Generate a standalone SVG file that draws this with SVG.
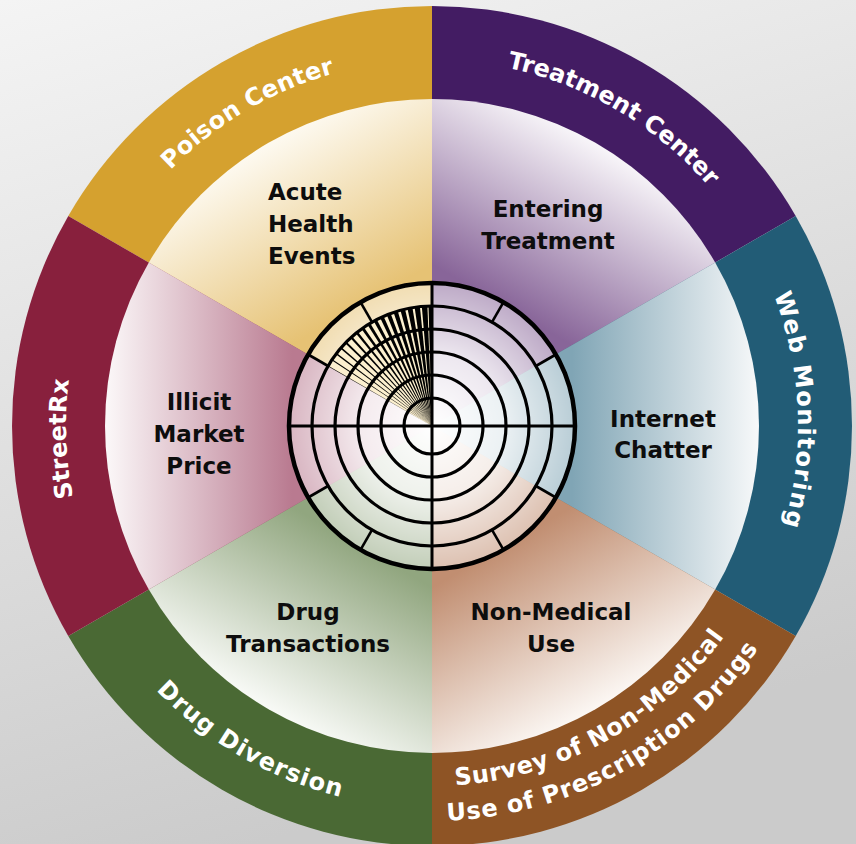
<svg xmlns="http://www.w3.org/2000/svg" xmlns:xlink="http://www.w3.org/1999/xlink" width="856" height="844" viewBox="0 0 856 844">
<style>
.ring{font-family:"DejaVu Sans","Liberation Sans",sans-serif;font-weight:bold;font-size:24px;fill:#ffffff;}
.lbl{font-family:"DejaVu Sans","Liberation Sans",sans-serif;font-weight:bold;font-size:23px;fill:#0d0d0d;}
.c{text-anchor:middle;}
.rk{fill:none;stroke:#000;}
</style>
<defs>
<linearGradient id="bg" x1="0" y1="0" x2="0.3" y2="1">
<stop offset="0" stop-color="#f4f4f4"/><stop offset="1" stop-color="#cbcbcb"/>
</linearGradient>
<linearGradient id="gY" gradientUnits="userSpaceOnUse" x1="362" y1="304.8" x2="269.5" y2="144.5"><stop offset="0" stop-color="#e6c274"/><stop offset="1" stop-color="#fdf9ef"/></linearGradient>
<linearGradient id="gP" gradientUnits="userSpaceOnUse" x1="502" y1="304.8" x2="594.5" y2="144.5"><stop offset="0" stop-color="#886599"/><stop offset="1" stop-color="#f7f4f8"/></linearGradient>
<linearGradient id="gT" gradientUnits="userSpaceOnUse" x1="572" y1="426" x2="757" y2="426"><stop offset="0" stop-color="#80a5b5"/><stop offset="1" stop-color="#f6f8f9"/></linearGradient>
<linearGradient id="gB" gradientUnits="userSpaceOnUse" x1="502" y1="547.2" x2="594.5" y2="707.5"><stop offset="0" stop-color="#c18e71"/><stop offset="1" stop-color="#fbf6f2"/></linearGradient>
<linearGradient id="gG" gradientUnits="userSpaceOnUse" x1="362" y1="547.2" x2="269.5" y2="707.5"><stop offset="0" stop-color="#91a67f"/><stop offset="1" stop-color="#f7f9f5"/></linearGradient>
<linearGradient id="gM" gradientUnits="userSpaceOnUse" x1="292" y1="426" x2="107" y2="426"><stop offset="0" stop-color="#b97a90"/><stop offset="1" stop-color="#fbf7f8"/></linearGradient>
<radialGradient id="glow" gradientUnits="userSpaceOnUse" cx="432" cy="426" r="143">
<stop offset="0" stop-color="#fff" stop-opacity="1"/><stop offset="0.5" stop-color="#fff" stop-opacity="0.85"/><stop offset="1" stop-color="#fff" stop-opacity="0.45"/>
</radialGradient>
<path id="top366" d="M -316.97,-183 A 366 366 0 0 1 316.97,-183"/>
<path id="bot382" d="M -330.82,191 A 382 382 0 0 0 330.82,191"/>
<path id="bot360" d="M -311.77,180 A 360 360 0 0 0 311.77,180"/>
<path id="bot395" d="M -342.08,197.5 A 395 395 0 0 0 342.08,197.5"/>
</defs>

<rect x="0" y="0" width="856" height="844" fill="url(#bg)"/>

<g id="ring-poison-center">
<path d="M432,426 L68.27,216 A420,420 0 0 1 432,6 Z" fill="#d5a12f"/>
<g transform="translate(432,426) rotate(-30.5)"><text class="ring c" letter-spacing="0.3"><textPath xlink:href="#top366" href="#top366" startOffset="50%">Poison Center</textPath></text></g>
</g>
<g id="ring-treatment-center">
<path d="M432,426 L432,6 A420,420 0 0 1 795.73,216 Z" fill="#431c63"/>
<g transform="translate(432,426) rotate(30.5)"><text class="ring c"><textPath xlink:href="#top366" href="#top366" startOffset="50%">Treatment Center</textPath></text></g>
</g>
<g id="ring-web-monitoring">
<path d="M432,426 L795.73,216 A420,420 0 0 1 795.73,636 Z" fill="#225c76"/>
<g transform="translate(432,426) rotate(87.5)"><text class="ring c" letter-spacing="1.5"><textPath xlink:href="#top366" href="#top366" startOffset="50%">Web Monitoring</textPath></text></g>
</g>
<g id="ring-survey">
<path d="M432,426 L795.73,636 A420,420 0 0 1 432,846 Z" fill="#8e5425"/>
<g transform="translate(432,426) rotate(-29)"><text class="ring c" letter-spacing="0.6"><textPath xlink:href="#bot360" href="#bot360" startOffset="50%">Survey of Non-Medical</textPath></text>
<text class="ring c" letter-spacing="0.9"><textPath xlink:href="#bot395" href="#bot395" startOffset="50%">Use of Prescription Drugs</textPath></text></g>
</g>
<g id="ring-drug-diversion">
<path d="M432,426 L432,846 A420,420 0 0 1 68.27,636 Z" fill="#4a6934"/>
<g transform="translate(432,426) rotate(30)"><text class="ring c" letter-spacing="1"><textPath xlink:href="#bot382" href="#bot382" startOffset="50%">Drug Diversion</textPath></text></g>
</g>
<g id="ring-streetrx">
<path d="M432,426 L68.27,636 A420,420 0 0 1 68.27,216 Z" fill="#88203d"/>
<g transform="translate(432,426) rotate(-92)"><text class="ring c"><textPath xlink:href="#top366" href="#top366" startOffset="50%">StreetRx</textPath></text></g>
</g>

<g id="wedge-acute-health-events">
<path d="M432,426 L148.82,262.5 A327,327 0 0 1 432,99 Z" fill="url(#gY)"/>
<text class="lbl" x="268" y="200">Acute</text>
<text class="lbl" x="268" y="232">Health</text>
<text class="lbl" x="268" y="264">Events</text>
</g>
<g id="wedge-entering-treatment">
<path d="M432,426 L432,99 A327,327 0 0 1 715.18,262.5 Z" fill="url(#gP)"/>
<text class="lbl c" x="548" y="217">Entering</text>
<text class="lbl c" x="548" y="249">Treatment</text>
</g>
<g id="wedge-internet-chatter">
<path d="M432,426 L715.18,262.5 A327,327 0 0 1 715.18,589.5 Z" fill="url(#gT)"/>
<text class="lbl c" x="663" y="427">Internet</text>
<text class="lbl c" x="663" y="458">Chatter</text>
</g>
<g id="wedge-non-medical-use">
<path d="M432,426 L715.18,589.5 A327,327 0 0 1 432,753 Z" fill="url(#gB)"/>
<text class="lbl c" x="551" y="620">Non-Medical</text>
<text class="lbl c" x="551" y="652">Use</text>
</g>
<g id="wedge-drug-transactions">
<path d="M432,426 L432,753 A327,327 0 0 1 148.82,589.5 Z" fill="url(#gG)"/>
<text class="lbl c" x="308" y="620">Drug</text>
<text class="lbl c" x="308" y="652">Transactions</text>
</g>
<g id="wedge-illicit-market-price">
<path d="M432,426 L148.82,589.5 A327,327 0 0 1 148.82,262.5 Z" fill="url(#gM)"/>
<text class="lbl c" x="199" y="410">Illicit</text>
<text class="lbl c" x="199" y="442">Market</text>
<text class="lbl c" x="199" y="474">Price</text>
</g>

<g id="radar">
<circle cx="432" cy="426" r="143" fill="url(#glow)"/>
<g transform="translate(432,426)">
<path d="M0,0 L-103.92,-60 A120,120 0 0 1 0,-120 Z" fill="#fcf0cf"/>
<g fill="#000">
<polygon points="0,0 -0.4,-120 0.4,-120" transform="rotate(-60)"/>
<polygon points="0,0 -0.55,-120 0.55,-120" transform="rotate(-56.47)"/>
<polygon points="0,0 -0.7,-120 0.7,-120" transform="rotate(-52.94)"/>
<polygon points="0,0 -0.85,-120 0.85,-120" transform="rotate(-49.41)"/>
<polygon points="0,0 -1.0,-120 1.0,-120" transform="rotate(-45.88)"/>
<polygon points="0,0 -1.15,-120 1.15,-120" transform="rotate(-42.35)"/>
<polygon points="0,0 -1.3,-120 1.3,-120" transform="rotate(-38.82)"/>
<polygon points="0,0 -1.45,-120 1.45,-120" transform="rotate(-35.29)"/>
<polygon points="0,0 -1.6,-120 1.6,-120" transform="rotate(-31.76)"/>
<polygon points="0,0 -1.75,-120 1.75,-120" transform="rotate(-28.24)"/>
<polygon points="0,0 -1.9,-120 1.9,-120" transform="rotate(-24.71)"/>
<polygon points="0,0 -2.05,-120 2.05,-120" transform="rotate(-21.18)"/>
<polygon points="0,0 -2.2,-120 2.2,-120" transform="rotate(-17.65)"/>
<polygon points="0,0 -2.35,-120 2.35,-120" transform="rotate(-14.12)"/>
<polygon points="0,0 -2.5,-120 2.5,-120" transform="rotate(-10.59)"/>
<polygon points="0,0 -2.65,-120 2.65,-120" transform="rotate(-7.06)"/>
<polygon points="0,0 -2.8,-120 2.8,-120" transform="rotate(-3.53)"/>
<polygon points="0,0 -3.5,-120 0,-120" transform="rotate(0)"/>
</g>
<g class="rk" stroke-width="3.2">
<circle r="28"/><circle r="51"/><circle r="74"/><circle r="97"/><circle r="120"/>
</g>
<g class="rk" stroke-width="3">
<line x1="-143" y1="0" x2="143" y2="0"/>
<line x1="0" y1="-143" x2="0" y2="143"/>
</g>
<g class="rk" stroke-width="2.6">
<line x1="0" y1="-120" x2="0" y2="-143" transform="rotate(30)"/>
<line x1="0" y1="-120" x2="0" y2="-143" transform="rotate(60)"/>
<line x1="0" y1="-120" x2="0" y2="-143" transform="rotate(120)"/>
<line x1="0" y1="-120" x2="0" y2="-143" transform="rotate(150)"/>
<line x1="0" y1="-120" x2="0" y2="-143" transform="rotate(210)"/>
<line x1="0" y1="-120" x2="0" y2="-143" transform="rotate(240)"/>
<line x1="0" y1="-120" x2="0" y2="-143" transform="rotate(300)"/>
<line x1="0" y1="-120" x2="0" y2="-143" transform="rotate(330)"/>
</g>
<circle class="rk" r="143" stroke-width="4.5"/>
</g>
</g>
<g id="connectors"/>
</svg>
